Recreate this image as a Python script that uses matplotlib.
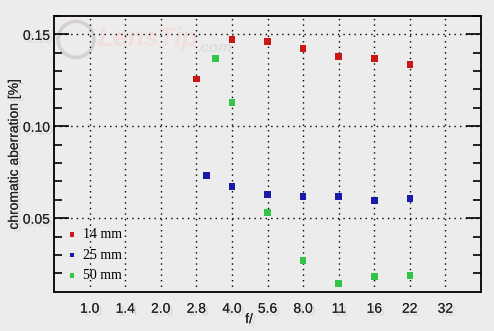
import numpy as np
import matplotlib.pyplot as plt
from matplotlib import patheffects
from matplotlib.patches import Ellipse

# f-stop categories on the x axis
stops = [1.0, 1.4, 2.0, 2.8, 4.0, 5.6, 8.0, 11, 16, 22, 32]
stop_labels = ["1.0", "1.4", "2.0", "2.8", "4.0", "5.6", "8.0", "11", "16", "22", "32"]

# chromatic aberration [%] per focal length
f_14 = [2.8, 4.0, 5.6, 8.0, 11, 16, 22]
ca_14 = [0.1257, 0.1471, 0.1460, 0.1422, 0.1379, 0.1368, 0.1335]

f_25 = [3.1, 4.0, 5.6, 8.0, 11, 16, 22]
ca_25 = [0.0732, 0.0672, 0.0629, 0.0618, 0.0618, 0.0596, 0.0607]

f_50 = [3.4, 4.0, 5.6, 8.0, 11, 16, 22]
ca_50 = [0.1368, 0.1129, 0.0531, 0.0270, 0.0145, 0.0183, 0.0189]

series = [("14 mm", f_14, ca_14, "#cc1515"),
          ("25 mm", f_25, ca_25, "#1a1aa8"),
          ("50 mm", f_50, ca_50, "#33c44a")]

idx = np.arange(len(stops))


def stop_pos(f):
    return np.interp(np.log(f), np.log(stops), idx)


bg = "#ececec"
shadow = [patheffects.withSimplePatchShadow(offset=(2, -2), shadow_rgbFace="0.6", alpha=0.25),
          patheffects.Normal()]

fig = plt.figure(figsize=(4.94, 3.31), dpi=100, facecolor=bg)
ax = fig.add_axes([0.1093, 0.1178, 0.8644, 0.8339], facecolor=bg)

# watermark
ax.add_patch(Ellipse((0.0515, 0.915), 0.0843, 0.1304, transform=ax.transAxes, fill=False,
                     ec="#d6cfcf", lw=2.5, zorder=0))
ax.text(0.102, 0.915, "LensTip", transform=ax.transAxes, fontsize=19, fontweight="bold",
        style="italic", color="#f3dede", va="center", ha="left", zorder=0,
        family="Liberation Sans")
ax.text(0.335, 0.885, ".com", transform=ax.transAxes, fontsize=11, fontweight="bold",
        style="italic", color="#dedede", va="center", ha="left", zorder=0,
        family="Liberation Sans")

for name, f, ca, col in series:
    ax.scatter(stop_pos(f), ca, marker="s", s=22, color=col, edgecolors="none",
               zorder=3)
    # legend proxy
    ax.scatter([], [], marker="s", s=12, color=col, edgecolors="none", label=name)

ax.set_xlim(-1, 11)
ax.set_ylim(0.0098, 0.1598)
ax.set_xticks(idx)
ax.set_xticklabels(stop_labels)
ax.set_yticks([0.05, 0.10, 0.15])
ax.set_yticklabels(["0.05", "0.10", "0.15"])
ax.set_yticks(np.arange(0.02, 0.16, 0.01), minor=True)

ax.grid(True, axis="x", linestyle=(0, (1, 3)), color="black", lw=1.0)
ax.grid(True, axis="y", which="major", linestyle=(0, (1, 3)), color="black", lw=1.0)

ax.tick_params(axis="x", length=0, pad=7, labelsize=10, labelcolor="#222222")
ax.tick_params(axis="y", which="major", direction="in", length=11, width=1.2,
               left=True, right=True, labelsize=10, labelcolor="#222222", pad=3)
ax.tick_params(axis="y", which="minor", direction="in", length=6, width=1.2,
               left=True, right=True)

for lab in ax.get_xticklabels() + ax.get_yticklabels():
    lab.set_family("Liberation Sans")
    lab.set_path_effects(shadow)

for sp in ax.spines.values():
    sp.set_linewidth(1.3)
    sp.set_color("black")

ax.set_ylabel("chromatic aberration [%]", fontsize=10, family="Liberation Sans",
              color="#222222", path_effects=shadow, va="center")
ax.yaxis.set_label_coords(-0.094, 0.5)
ax.set_xlabel("f/", fontsize=10, family="Liberation Sans", color="#222222",
              path_effects=shadow, va="center")
ax.xaxis.set_label_coords(0.457, -0.098)

leg = ax.legend(loc="lower left", frameon=False, handletextpad=0.2,
                borderaxespad=0.3, labelspacing=0.55, handlelength=1.2,
                prop={"family": "Liberation Serif", "size": 10})

fig.savefig("out.png", dpi=100, facecolor=bg)
